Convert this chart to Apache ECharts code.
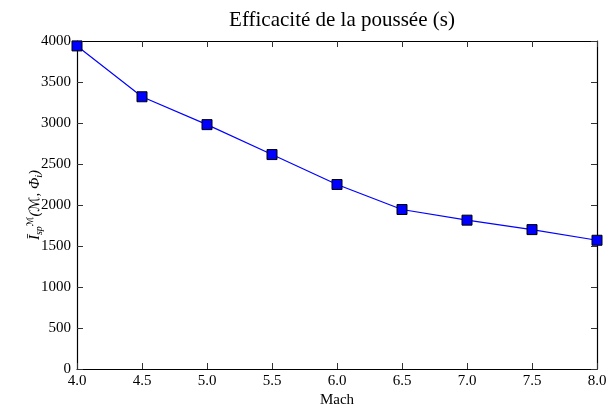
<!DOCTYPE html>
<html><head><meta charset="utf-8">
<script src="https://cdn.jsdelivr.net/npm/echarts@6/dist/echarts.min.js"></script>
<style>html,body{margin:0;padding:0;background:#fff}#c{width:607px;height:405px}</style>
</head><body><div id="c"></div>
<script>
const mach = [4.0, 4.5, 5.0, 5.5, 6.0, 6.5, 7.0, 7.5, 8.0];
const isp = [3940, 3320, 2980, 2615, 2250, 1945, 1815, 1700, 1570];
const title = 'Efficacité de la poussée (s)';
const xName = 'Mach';

const F = 'Liberation Serif';
const chart = echarts.init(document.getElementById('c'));
const mkLine = () => ({show: true, onZero: false, lineStyle: {color: '#000', width: 1.2}});
const noTick = () => ({show: false});
const xRange = {type: 'value', min: 4, max: 8, interval: 0.5};
const yRange = {type: 'value', min: 0, max: 4000, interval: 500};
// tick-only axes shifted inward so outward ticks land inside the frame
const tickAxis = (base, pos) => Object.assign({}, base, {
  position: pos, offset: -6,
  axisLine: {show: false, onZero: false},
  axisTick: {show: true, inside: false, length: 6, lineStyle: {color: '#333', width: 1}},
  axisLabel: {show: false}, splitLine: {show: false}
});
chart.setOption({
  animation: false,
  title: {text: title, left: 337, top: 5, textAlign: 'center',
    textStyle: {fontFamily: F, fontSize: 21, fontWeight: 'normal', color: '#000'}},
  grid: {left: 77, right: 10, top: 41, bottom: 36, containLabel: false, outerBoundsMode: 'none'},
  xAxis: [Object.assign({}, xRange, {
    position: 'bottom',
    axisLine: mkLine(), axisTick: noTick(), splitLine: {show: false},
    axisLabel: {formatter: v => v.toFixed(1), fontFamily: F, fontSize: 15, color: '#000', margin: 5},
    name: xName, nameLocation: 'middle', nameGap: 24, nameMoveOverlap: false,
    nameTextStyle: {fontFamily: F, fontSize: 15, color: '#000'}
  }), Object.assign({}, xRange, {
    position: 'top',
    axisLine: mkLine(), axisTick: noTick(), axisLabel: {show: false}, splitLine: {show: false}
  }), tickAxis(xRange, 'bottom'), tickAxis(xRange, 'top')],
  yAxis: [Object.assign({}, yRange, {
    position: 'left',
    axisLine: mkLine(), axisTick: noTick(), splitLine: {show: false},
    axisLabel: {formatter: v => String(v), fontFamily: F, fontSize: 15, color: '#000', margin: 6},
    name: '{n|Ī}{sub|sp}{sup|ℳ}{n|(}{m|ℳ}{n|, Φ}{sub|i}{n|)}', nameLocation: 'middle', nameGap: 32,
    nameMoveOverlap: false,
    nameTextStyle: {fontFamily: F, fontSize: 15, color: '#000',
      rich: {
        n: {fontFamily: F, fontSize: 15, fontStyle: 'italic', color: '#000'},
        m: {fontFamily: 'DejaVu Sans', fontSize: 14, color: '#000'},
        sub: {fontFamily: F, fontSize: 10, fontStyle: 'italic', color: '#000', padding: [8, 0, 0, 0]},
        sup: {fontFamily: 'DejaVu Sans', fontSize: 9, color: '#000', padding: [0, 0, 10, 0]}
      }}
  }), Object.assign({}, yRange, {
    position: 'right',
    axisLine: mkLine(), axisTick: noTick(), axisLabel: {show: false}, splitLine: {show: false}
  }), tickAxis(yRange, 'left'), tickAxis(yRange, 'right')],
  series: [{
    type: 'line', xAxisIndex: 0, yAxisIndex: 0,
    data: mach.map((m, i) => [m, isp[i]]),
    symbol: 'rect', symbolSize: 10,
    lineStyle: {color: '#0000ff', width: 1.2},
    itemStyle: {color: '#0000ff', borderColor: '#000', borderWidth: 1},
    clip: false
  }]
});
</script></body></html>
